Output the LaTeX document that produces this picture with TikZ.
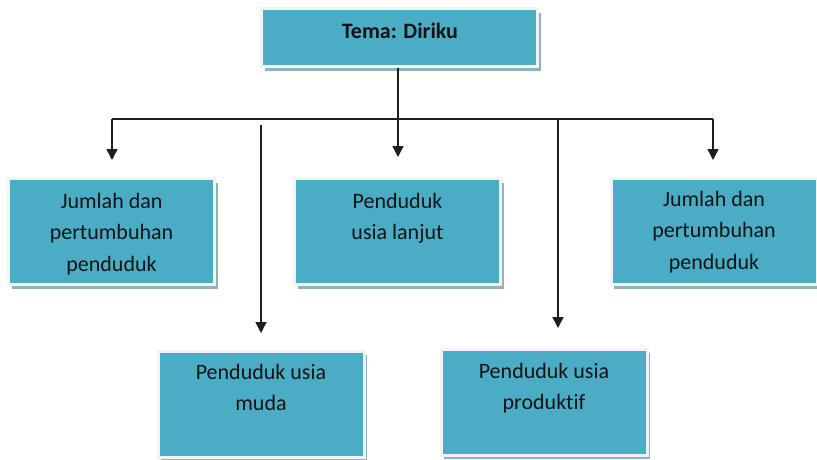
\documentclass[tikz,border=0pt]{standalone}
\usepackage{fontspec}
\setmainfont{Carlito}[Ligatures={NoCommon}]
\usetikzlibrary{arrows.meta,shadows}
\definecolor{boxteal}{RGB}{75,172,198}
\definecolor{boxedge}{RGB}{243,243,243}
\definecolor{shadowc}{RGB}{150,176,186}
\definecolor{linec}{RGB}{30,30,30}
\definecolor{txtc}{RGB}{20,20,20}
\newcommand{\firststrut}{\rule{0pt}{15.5pt}}
\begin{document}
\begin{tikzpicture}[x=1pt,y=-1pt,
  box/.style={rectangle, fill=boxteal, draw=boxedge, line width=3pt,
    minimum width=206pt, minimum height=106pt, inner sep=0pt,
    drop shadow={shadow xshift=3pt, shadow yshift=-4pt, fill=shadowc, opacity=1}},
  lbl/.style={anchor=north, inner sep=0pt, align=center,
    font=\fontsize{22}{31.5}\selectfont, text=txtc},
  conn/.style={draw=linec, line width=1.4pt},
  arr/.style={conn, -{Triangle[width=11pt,length=11pt]}}]
\useasboundingbox (0,0) rectangle (817,459);
\fill[white] (0,0) rectangle (817,459);

% boxes
\node[box, minimum width=276pt, minimum height=58pt] (top) at (399.5,37.5) {};
\node[box] (l)  at (111.5,231.5) {};
\node[box] (ct) at (397.5,231.5) {};
\node[box] (r)  at (714,231.5) {};
\node[box] (bl) at (261,404) {};
\node[box] (br) at (544,402) {};

% texts
\node[lbl, font=\fontsize{22}{31.5}\selectfont\bfseries] (ttop) at (400,23) {\firststrut Tema: Diriku};
\node[lbl] (tl)  at (111.5,192.5) {\firststrut Jumlah dan\\pertumbuhan\\penduduk};
\node[lbl] (tct) at (397.5,192.5) {\firststrut Penduduk\\usia lanjut};
\node[lbl] (tr)  at (714,190.5) {\firststrut Jumlah dan\\pertumbuhan\\penduduk};
\node[lbl] (tbl) at (261,363.5) {\firststrut Penduduk usia\\muda};
\node[lbl] (tbr) at (544,362.5) {\firststrut Penduduk usia\\produktif};

% connectors
\coordinate (c)    at (398,119);
\coordinate (busL) at (112,119);
\coordinate (busR) at (713,119);
\coordinate (v1)   at (261,125);
\coordinate (v2)   at (558,119);

\draw[conn] (busL) -- (busR);
\draw[arr] (top.south -| c) -- ([yshift=20pt]ct.north -| c);
\draw[arr] (busL) -- ([yshift=17pt]l.north -| busL);
\draw[arr] (busR) -- ([yshift=17pt]r.north -| busR);
\draw[arr] (v1) -- ([yshift=16.5pt]bl.north -| v1);
\draw[arr] (v2) -- ([yshift=19.5pt]br.north -| v2);
\end{tikzpicture}
\end{document}
